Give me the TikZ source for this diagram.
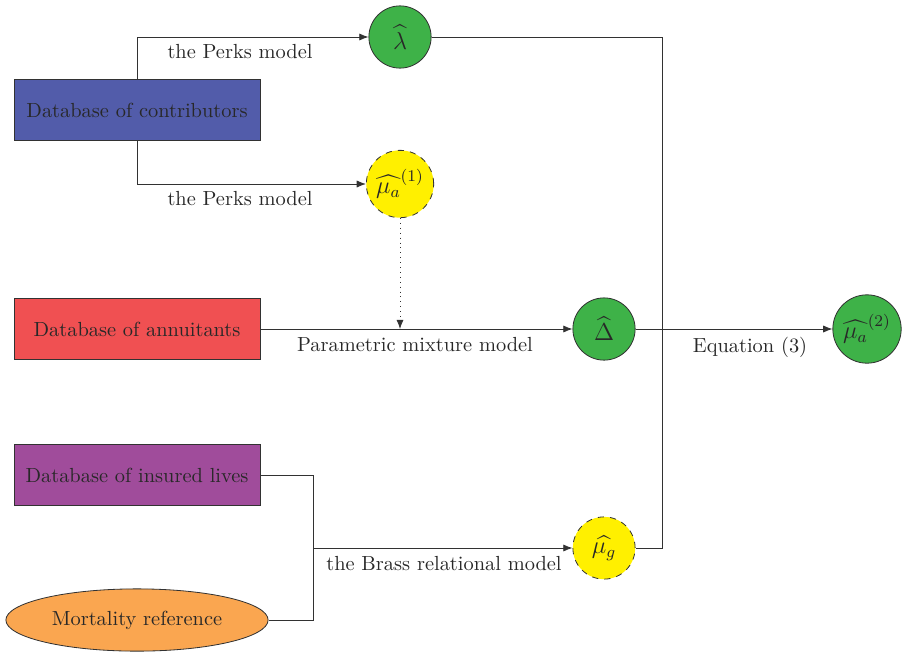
\documentclass[tikz,border=0pt]{standalone}
\usepackage{amsmath}
\usetikzlibrary{shapes.geometric,arrows.meta}
\definecolor{cblue}{RGB}{82,92,170}
\definecolor{cred}{RGB}{240,80,82}
\definecolor{cpurple}{RGB}{160,76,155}
\definecolor{corange}{RGB}{250,166,80}
\definecolor{cgreen}{RGB}{62,178,72}
\definecolor{cyellow}{RGB}{255,240,0}
\definecolor{ctext}{RGB}{40,40,40}
\definecolor{cline}{RGB}{50,50,50}
\tikzset{
  dbbox/.style={draw=cline, line width=0.4pt, minimum width=120.5pt, minimum height=30pt, inner sep=0pt, text=ctext},
  est/.style={circle, draw=cline, line width=0.4pt, minimum size=30.5pt, inner sep=0pt, fill=cgreen, text=ctext, font=\large},
  prelim/.style={circle, draw=cline, dashed, line width=0.4pt, minimum size=30.5pt, inner sep=0pt, fill=cyellow, text=ctext, font=\large},
  conn/.style={draw=cline, line width=0.4pt},
  arr/.style={conn, -{Latex[length=4.5pt,width=3.5pt]}},
  lbl/.style={text=ctext, inner sep=0pt}
}
\begin{document}
\begin{tikzpicture}[x=0.49pt,y=-0.49pt]
\useasboundingbox (0,0) rectangle (902,652);
\node[dbbox, fill=cblue] (contrib) at (137,110) {Database of contributors};
\node[dbbox, fill=cred] (annuit) at (137,329) {Database of annuitants};
\node[dbbox, fill=cpurple] (insured) at (137,475) {Database of insured lives};
\node[ellipse, draw=cline, line width=0.4pt, fill=corange, minimum width=128.5pt, minimum height=30.5pt, inner sep=0pt, text=ctext] (mortref) at (137,620) {Mortality reference};

\node[est] (lambda) at (400,37) {$\widehat{\lambda}$};
\node[prelim, minimum size=33pt] (mua1) at (400,184) {$\widehat{\mu_a}^{(1)}$};
\node[est, minimum size=33.5pt] (mua2) at (867,329) {$\widehat{\mu_a}^{(2)}$};
\node[est] (delta) at (604,329) {$\widehat{\Delta}$};
\node[prelim] (mug) at (604,548) {$\widehat{\mu_g}$};

\coordinate (j1) at (313,548);
\coordinate (dotend) at (400,329);
\coordinate (rtop) at (662,37);
\coordinate (rbot) at (662,548);

\draw[arr] (contrib.north) |- (lambda.west);
\draw[arr] (contrib.south) |- (mua1.west);
\node[lbl] (l1) at (240,52) {the Perks model};
\node[lbl] (l2) at (240,199) {the Perks model};

\draw[arr, dotted] (mua1.south) -- (dotend);
\draw[arr] (annuit.east) -- (delta.west);
\node[lbl] (l3) at (415,345) {Parametric mixture model};

\draw[conn] (insured.east) -| (j1);
\draw[conn] (mortref.east) -| (j1);
\draw[arr] (j1) -- (mug.west);
\node[lbl] (l4) at (444,564) {the Brass relational model};

\draw[conn] (lambda.east) -- (rtop) -- (rbot) -- (mug.east);
\draw[arr] (delta.east) -- (mua2.west);
\node[lbl] (l5) at (750,347) {Equation (3)};
\end{tikzpicture}
\end{document}
